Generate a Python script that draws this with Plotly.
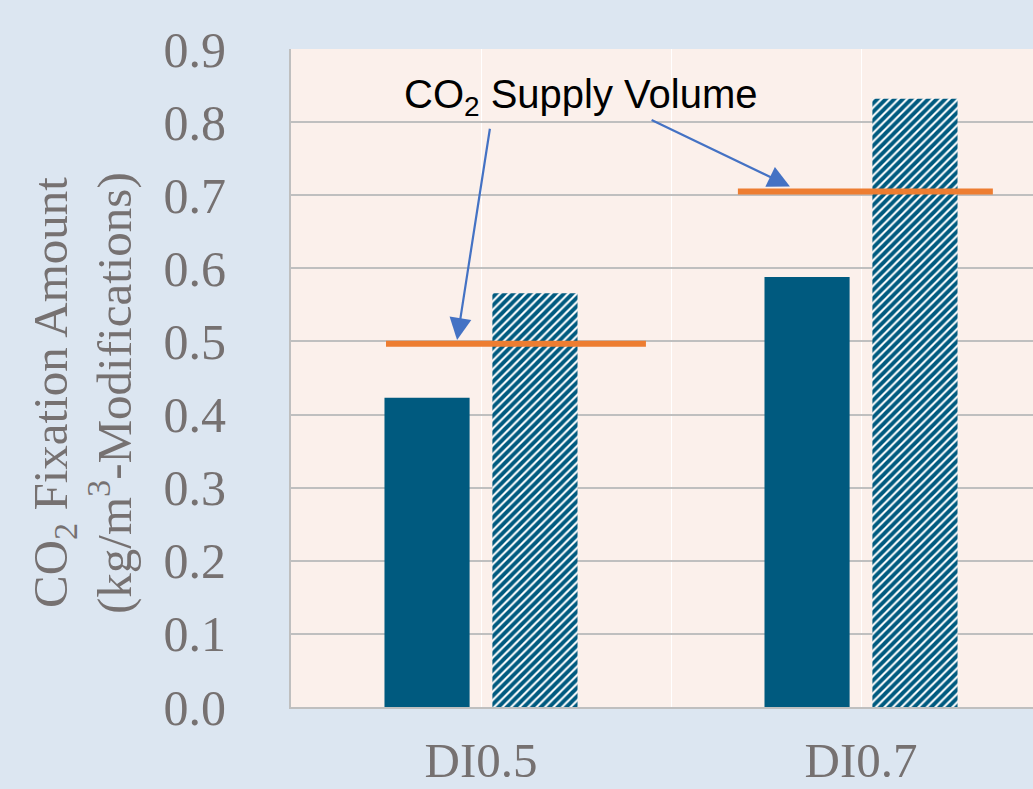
import plotly.graph_objects as go

categories = ["DI0.5", "DI0.7"]
fixation_solid = [0.423, 0.588]
fixation_hatched = [0.566, 0.832]
supply_volume = [0.497, 0.705]
y_ticks = [0.0, 0.1, 0.2, 0.3, 0.4, 0.5, 0.6, 0.7, 0.8, 0.9]
y_tick_labels = ["0.0", "0.1", "0.2", "0.3", "0.4", "0.5", "0.6", "0.7", "0.8", "0.9"]
y_title_lines = ["CO<sub>2</sub> Fixation Amount", "(kg/m<sup>3</sup>-Modifications)"]
supply_label = "CO<sub>2</sub> Supply Volume"

# layout / style constants
BLUE = "#005A7F"
ORANGE = "#ED7D31"
ARROW = "#4472C4"
GREY = "#767171"
SERIF = "Liberation Serif, Times New Roman, serif"
BAR_W = 0.224
supply_extent = [(-0.25, 0.434), (-0.324, 0.347)]

xpos = list(range(len(categories)))

fig = go.Figure()
fig.add_trace(go.Bar(
    x=xpos, y=fixation_solid, width=BAR_W, offset=-0.254,
    marker=dict(color=BLUE, line=dict(width=0)), showlegend=False))
fig.add_trace(go.Bar(
    x=xpos, y=fixation_hatched, width=BAR_W, offset=0.030,
    marker=dict(color="white", line=dict(width=0),
                pattern=dict(shape="/", fgcolor=BLUE, bgcolor="white",
                             size=6, solidity=0.65, fillmode="replace")),
    showlegend=False))

for i, v in enumerate(supply_volume):
    a, b = supply_extent[i]
    fig.add_trace(go.Scatter(
        x=[xpos[i] + a, xpos[i] + b], y=[v, v], mode="lines",
        line=dict(color=ORANGE, width=6), showlegend=False, hoverinfo="skip"))

# label and arrows
fig.add_annotation(x=0.263, y=0.834, xref="x", yref="y",
                   text=supply_label, showarrow=False,
                   font=dict(family="Liberation Sans, Arial", size=40, color="black"))
fig.add_annotation(x=-0.063, y=supply_volume[0] + 0.005, ax=0.024, ay=0.793,
                   xref="x", yref="y", axref="x", ayref="y", text="",
                   showarrow=True, arrowhead=2, arrowsize=2, arrowwidth=2.2,
                   arrowcolor=ARROW)
fig.add_annotation(x=0.813, y=supply_volume[1] + 0.007, ax=0.445, ay=0.804,
                   xref="x", yref="y", axref="x", ayref="y", text="",
                   showarrow=True, arrowhead=2, arrowsize=2, arrowwidth=2.2,
                   arrowcolor=ARROW)

# y-axis title as two rotated annotations
for line_text, xpix in zip(y_title_lines, [53, 110]):
    fig.add_annotation(x=(xpix - 291) / 742, y=(707 - 393) / 658,
                       xref="paper", yref="paper",
                       xanchor="center", yanchor="middle",
                       text=line_text, textangle=-90, showarrow=False,
                       font=dict(family=SERIF, size=49, color=GREY))

fig.update_layout(
    width=1033, height=789,
    margin=dict(l=291, r=0, t=49, b=82, autoexpand=False),
    paper_bgcolor="#DCE6F1",
    plot_bgcolor="#FBF0EB",
    barmode="overlay",
    xaxis=dict(
        range=[-0.5, 1.4526], tickvals=xpos, ticktext=categories,
        showgrid=True, gridcolor="#FFFFFF", gridwidth=1,
        minor=dict(tickvals=[0.5], showgrid=True, gridcolor="#FFFFFF", gridwidth=1),
        showline=True, linecolor="#BFBFBF", linewidth=2, automargin=False,
        ticks="", ticklabelstandoff=9, zeroline=False,
        tickfont=dict(family=SERIF, size=49, color=GREY)),
    yaxis=dict(
        range=[0, 0.9], tickvals=y_ticks, ticktext=y_tick_labels,
        showgrid=True, gridcolor="#BFBFBF", gridwidth=2,
        showline=True, linecolor="#BFBFBF", linewidth=2, automargin=False,
        ticks="", ticklabelstandoff=53, zeroline=False,
        tickfont=dict(family=SERIF, size=50, color=GREY)),
)

fig.write_html("out.html", config={"displayModeBar": False},
               post_script="document.body.style.margin='0';document.body.style.overflow='hidden';")
